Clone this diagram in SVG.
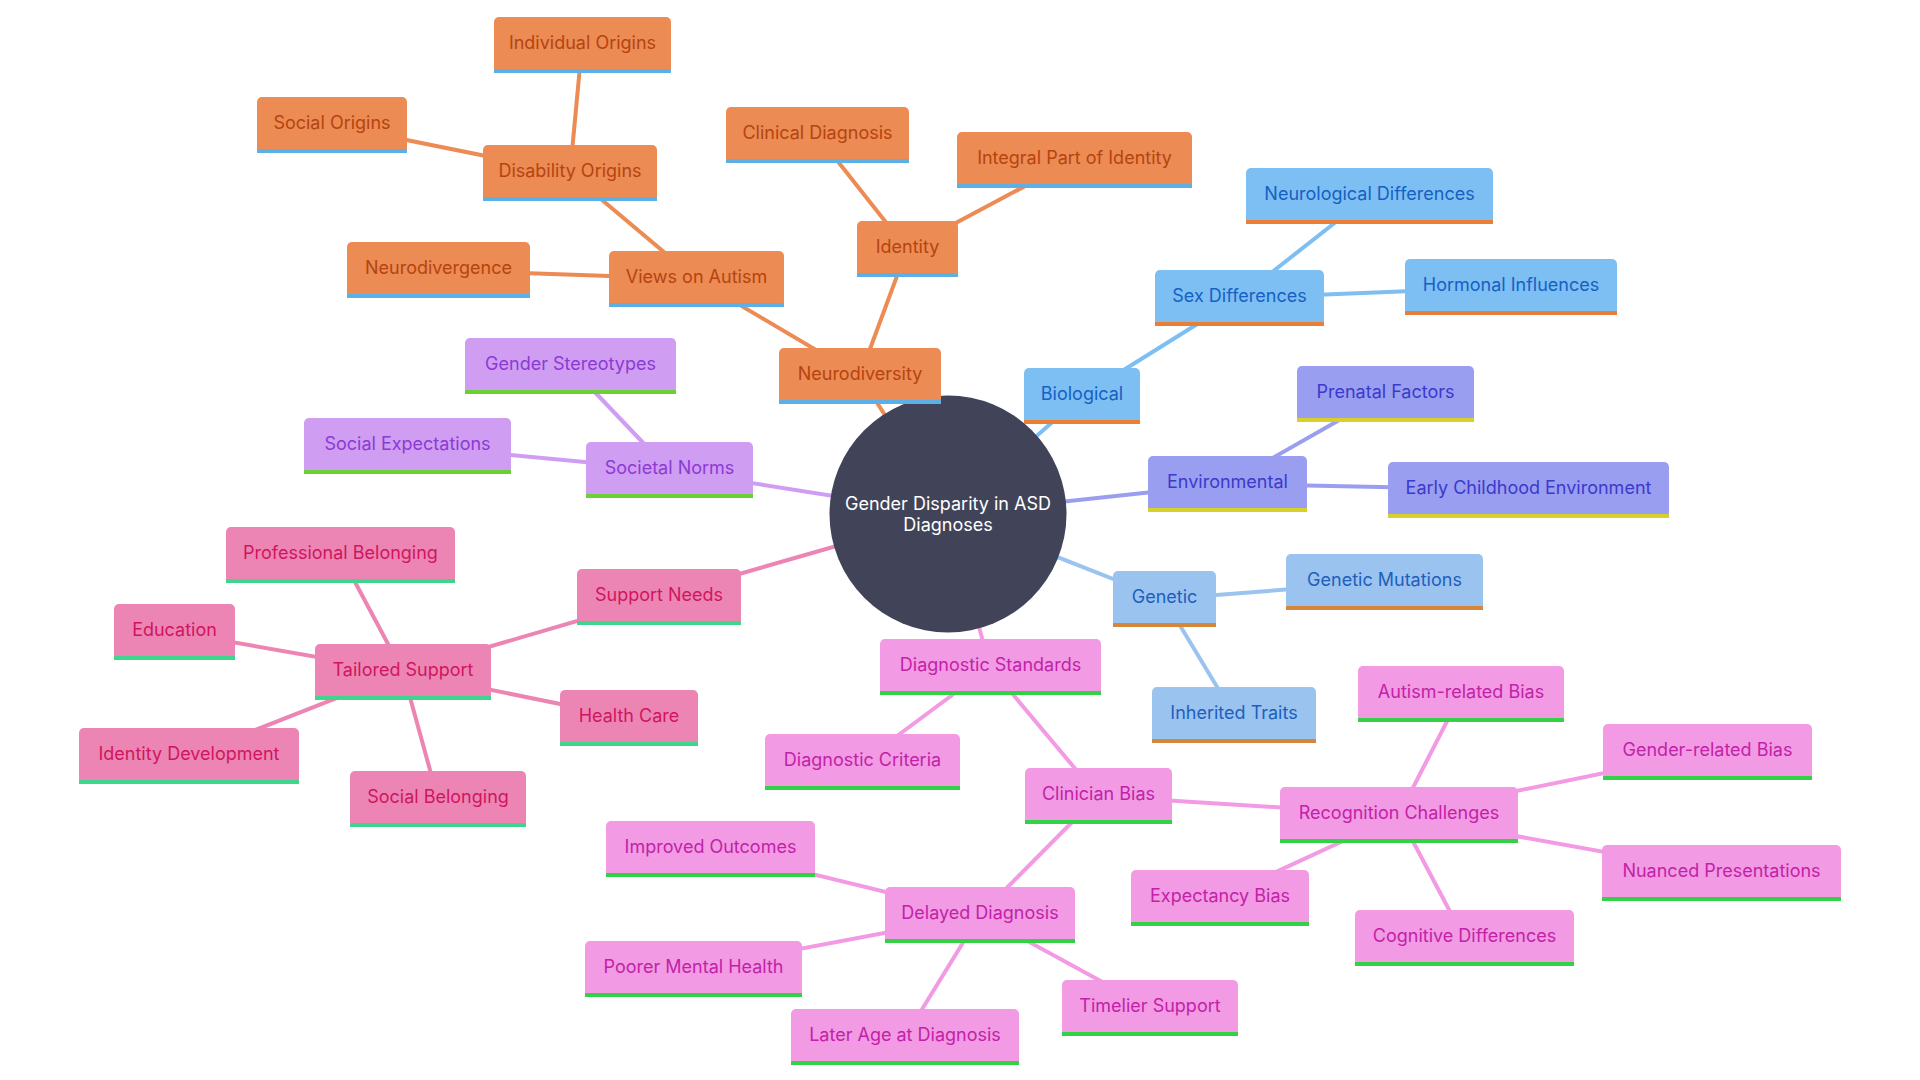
<svg xmlns="http://www.w3.org/2000/svg" width="1920" height="1080" viewBox="0 0 1920 1080">
<style>
text{font-family:Inter,"Noto Sans","Liberation Sans",sans-serif;font-size:18px;text-anchor:middle}
g[class] text{transform:translateY(-1px)}
.e{stroke-width:4;stroke-linecap:round;fill:none}
.eo{stroke:#EC8B54}.eb{stroke:#7DBFF2}.ev{stroke:#9A9EF0}.eg{stroke:#9AC3F0}.ed{stroke:#F29AE3}.es{stroke:#EC85B3}.el{stroke:#CF9DF2}
.o rect.f{fill:#EC8B54}.o rect.l{fill:#5DB0E6}.o text{fill:#B5440F}
.b rect.f{fill:#7DBFF2}.b rect.l{fill:#E97E34}.b text{fill:#1660C4}
.v rect.f{fill:#9A9EF0}.v rect.l{fill:#D7CF2A}.v text{fill:#3A3ACB}
.g rect.f{fill:#9AC3F0}.g rect.l{fill:#D4873A}.g text{fill:#1E5FBB}
.d rect.f{fill:#F29AE3}.d rect.l{fill:#33D146}.d text{fill:#C222A8}
.s rect.f{fill:#EC85B3}.s rect.l{fill:#3DD68C}.s text{fill:#D0155F}
.n rect.f{fill:#CF9DF2}.n rect.l{fill:#6CCF35}.n text{fill:#8C3AD4}
</style>
<rect width="1920" height="1080" fill="#ffffff"/>
<g id="connectors">
<line class="e eo" x1="948" y1="514" x2="860" y2="376"/>
<line class="e eo" x1="860" y1="376" x2="696" y2="279"/>
<line class="e eo" x1="860" y1="376" x2="907" y2="249"/>
<line class="e eo" x1="696" y1="279" x2="570" y2="173"/>
<line class="e eo" x1="696" y1="279" x2="438" y2="270"/>
<line class="e eo" x1="570" y1="173" x2="582" y2="45"/>
<line class="e eo" x1="570" y1="173" x2="332" y2="125"/>
<line class="e eo" x1="907" y1="249" x2="817" y2="135"/>
<line class="e eo" x1="907" y1="249" x2="1074" y2="160"/>
<line class="e eb" x1="948" y1="514" x2="1082" y2="396"/>
<line class="e eb" x1="1082" y1="396" x2="1239" y2="298"/>
<line class="e eb" x1="1239" y1="298" x2="1369" y2="196"/>
<line class="e eb" x1="1239" y1="298" x2="1511" y2="287"/>
<line class="e ev" x1="948" y1="514" x2="1227" y2="484"/>
<line class="e ev" x1="1227" y1="484" x2="1385" y2="394"/>
<line class="e ev" x1="1227" y1="484" x2="1528" y2="490"/>
<line class="e eg" x1="948" y1="514" x2="1164" y2="599"/>
<line class="e eg" x1="1164" y1="599" x2="1384" y2="582"/>
<line class="e eg" x1="1164" y1="599" x2="1234" y2="715"/>
<line class="e ed" x1="948" y1="514" x2="990" y2="667"/>
<line class="e ed" x1="990" y1="667" x2="862" y2="762"/>
<line class="e ed" x1="990" y1="667" x2="1098" y2="796"/>
<line class="e ed" x1="1098" y1="796" x2="1399" y2="815"/>
<line class="e ed" x1="1399" y1="815" x2="1461" y2="694"/>
<line class="e ed" x1="1399" y1="815" x2="1707" y2="752"/>
<line class="e ed" x1="1399" y1="815" x2="1721" y2="873"/>
<line class="e ed" x1="1399" y1="815" x2="1220" y2="898"/>
<line class="e ed" x1="1399" y1="815" x2="1464" y2="938"/>
<line class="e ed" x1="1098" y1="796" x2="980" y2="915"/>
<line class="e ed" x1="980" y1="915" x2="710" y2="849"/>
<line class="e ed" x1="980" y1="915" x2="693" y2="969"/>
<line class="e ed" x1="980" y1="915" x2="905" y2="1037"/>
<line class="e ed" x1="980" y1="915" x2="1150" y2="1008"/>
<line class="e es" x1="948" y1="514" x2="659" y2="597"/>
<line class="e es" x1="659" y1="597" x2="403" y2="672"/>
<line class="e es" x1="403" y1="672" x2="340" y2="554"/>
<line class="e es" x1="403" y1="672" x2="174" y2="632"/>
<line class="e es" x1="403" y1="672" x2="629" y2="718"/>
<line class="e es" x1="403" y1="672" x2="189" y2="756"/>
<line class="e es" x1="403" y1="672" x2="438" y2="799"/>
<line class="e el" x1="948" y1="514" x2="669" y2="470"/>
<line class="e el" x1="669" y1="470" x2="570" y2="366"/>
<line class="e el" x1="669" y1="470" x2="407" y2="445"/>
</g>
<g id="root">
<circle cx="948" cy="514" r="118.5" fill="#414459"/>
<text x="948" y="510" fill="#ffffff">Gender Disparity in ASD</text>
<text x="948" y="531" fill="#ffffff">Diagnoses</text>
</g>
<g id="n-neurodiversity" class="o"><rect class="f" x="779" y="348" width="162" height="56" rx="5"/><rect class="l" x="779" y="400" width="162" height="4"/><text x="860" y="381">Neurodiversity</text></g>
<g id="n-views" class="o"><rect class="f" x="609" y="251" width="175" height="56" rx="5"/><rect class="l" x="609" y="303" width="175" height="4"/><text x="696.5" y="284">Views on Autism</text></g>
<g id="n-disability" class="o"><rect class="f" x="483" y="145" width="174" height="56" rx="5"/><rect class="l" x="483" y="197" width="174" height="4"/><text x="570" y="178">Disability Origins</text></g>
<g id="n-individual" class="o"><rect class="f" x="494" y="17" width="177" height="56" rx="5"/><rect class="l" x="494" y="69" width="177" height="4"/><text x="582.5" y="50">Individual Origins</text></g>
<g id="n-social-origins" class="o"><rect class="f" x="257" y="97" width="150" height="56" rx="5"/><rect class="l" x="257" y="149" width="150" height="4"/><text x="332" y="130">Social Origins</text></g>
<g id="n-neurodivergence" class="o"><rect class="f" x="347" y="242" width="183" height="56" rx="5"/><rect class="l" x="347" y="294" width="183" height="4"/><text x="438.5" y="275">Neurodivergence</text></g>
<g id="n-identity" class="o"><rect class="f" x="857" y="221" width="101" height="56" rx="5"/><rect class="l" x="857" y="273" width="101" height="4"/><text x="907.5" y="254">Identity</text></g>
<g id="n-clinical" class="o"><rect class="f" x="726" y="107" width="183" height="56" rx="5"/><rect class="l" x="726" y="159" width="183" height="4"/><text x="817.5" y="140">Clinical Diagnosis</text></g>
<g id="n-integral" class="o"><rect class="f" x="957" y="132" width="235" height="56" rx="5"/><rect class="l" x="957" y="184" width="235" height="4"/><text x="1074.5" y="165">Integral Part of Identity</text></g>
<g id="n-biological" class="b"><rect class="f" x="1024" y="368" width="116" height="56" rx="5"/><rect class="l" x="1024" y="420" width="116" height="4"/><text x="1082" y="401">Biological</text></g>
<g id="n-sex" class="b"><rect class="f" x="1155" y="270" width="169" height="56" rx="5"/><rect class="l" x="1155" y="322" width="169" height="4"/><text x="1239.5" y="303">Sex Differences</text></g>
<g id="n-neurological" class="b"><rect class="f" x="1246" y="168" width="247" height="56" rx="5"/><rect class="l" x="1246" y="220" width="247" height="4"/><text x="1369.5" y="201">Neurological Differences</text></g>
<g id="n-hormonal" class="b"><rect class="f" x="1405" y="259" width="212" height="56" rx="5"/><rect class="l" x="1405" y="311" width="212" height="4"/><text x="1511" y="292">Hormonal Influences</text></g>
<g id="n-environmental" class="v"><rect class="f" x="1148" y="456" width="159" height="56" rx="5"/><rect class="l" x="1148" y="508" width="159" height="4"/><text x="1227.5" y="489">Environmental</text></g>
<g id="n-prenatal" class="v"><rect class="f" x="1297" y="366" width="177" height="56" rx="5"/><rect class="l" x="1297" y="418" width="177" height="4"/><text x="1385.5" y="399">Prenatal Factors</text></g>
<g id="n-early" class="v"><rect class="f" x="1388" y="462" width="281" height="56" rx="5"/><rect class="l" x="1388" y="514" width="281" height="4"/><text x="1528.5" y="495">Early Childhood Environment</text></g>
<g id="n-genetic" class="g"><rect class="f" x="1113" y="571" width="103" height="56" rx="5"/><rect class="l" x="1113" y="623" width="103" height="4"/><text x="1164.5" y="604">Genetic</text></g>
<g id="n-mutations" class="g"><rect class="f" x="1286" y="554" width="197" height="56" rx="5"/><rect class="l" x="1286" y="606" width="197" height="4"/><text x="1384.5" y="587">Genetic Mutations</text></g>
<g id="n-inherited" class="g"><rect class="f" x="1152" y="687" width="164" height="56" rx="5"/><rect class="l" x="1152" y="739" width="164" height="4"/><text x="1234" y="720">Inherited Traits</text></g>
<g id="n-diag-standards" class="d"><rect class="f" x="880" y="639" width="221" height="56" rx="5"/><rect class="l" x="880" y="691" width="221" height="4"/><text x="990.5" y="672">Diagnostic Standards</text></g>
<g id="n-diag-criteria" class="d"><rect class="f" x="765" y="734" width="195" height="56" rx="5"/><rect class="l" x="765" y="786" width="195" height="4"/><text x="862.5" y="767">Diagnostic Criteria</text></g>
<g id="n-clinician" class="d"><rect class="f" x="1025" y="768" width="147" height="56" rx="5"/><rect class="l" x="1025" y="820" width="147" height="4"/><text x="1098.5" y="801">Clinician Bias</text></g>
<g id="n-recognition" class="d"><rect class="f" x="1280" y="787" width="238" height="56" rx="5"/><rect class="l" x="1280" y="839" width="238" height="4"/><text x="1399" y="820">Recognition Challenges</text></g>
<g id="n-autism-bias" class="d"><rect class="f" x="1358" y="666" width="206" height="56" rx="5"/><rect class="l" x="1358" y="718" width="206" height="4"/><text x="1461" y="699">Autism-related Bias</text></g>
<g id="n-gender-bias" class="d"><rect class="f" x="1603" y="724" width="209" height="56" rx="5"/><rect class="l" x="1603" y="776" width="209" height="4"/><text x="1707.5" y="757">Gender-related Bias</text></g>
<g id="n-nuanced" class="d"><rect class="f" x="1602" y="845" width="239" height="56" rx="5"/><rect class="l" x="1602" y="897" width="239" height="4"/><text x="1721.5" y="878">Nuanced Presentations</text></g>
<g id="n-expectancy" class="d"><rect class="f" x="1131" y="870" width="178" height="56" rx="5"/><rect class="l" x="1131" y="922" width="178" height="4"/><text x="1220" y="903">Expectancy Bias</text></g>
<g id="n-cognitive" class="d"><rect class="f" x="1355" y="910" width="219" height="56" rx="5"/><rect class="l" x="1355" y="962" width="219" height="4"/><text x="1464.5" y="943">Cognitive Differences</text></g>
<g id="n-delayed" class="d"><rect class="f" x="885" y="887" width="190" height="56" rx="5"/><rect class="l" x="885" y="939" width="190" height="4"/><text x="980" y="920">Delayed Diagnosis</text></g>
<g id="n-improved" class="d"><rect class="f" x="606" y="821" width="209" height="56" rx="5"/><rect class="l" x="606" y="873" width="209" height="4"/><text x="710.5" y="854">Improved Outcomes</text></g>
<g id="n-poorer" class="d"><rect class="f" x="585" y="941" width="217" height="56" rx="5"/><rect class="l" x="585" y="993" width="217" height="4"/><text x="693.5" y="974">Poorer Mental Health</text></g>
<g id="n-later" class="d"><rect class="f" x="791" y="1009" width="228" height="56" rx="5"/><rect class="l" x="791" y="1061" width="228" height="4"/><text x="905" y="1042">Later Age at Diagnosis</text></g>
<g id="n-timelier" class="d"><rect class="f" x="1062" y="980" width="176" height="56" rx="5"/><rect class="l" x="1062" y="1032" width="176" height="4"/><text x="1150" y="1013">Timelier Support</text></g>
<g id="n-support-needs" class="s"><rect class="f" x="577" y="569" width="164" height="56" rx="5"/><rect class="l" x="577" y="621" width="164" height="4"/><text x="659" y="602">Support Needs</text></g>
<g id="n-tailored" class="s"><rect class="f" x="315" y="644" width="176" height="56" rx="5"/><rect class="l" x="315" y="696" width="176" height="4"/><text x="403" y="677">Tailored Support</text></g>
<g id="n-professional" class="s"><rect class="f" x="226" y="527" width="229" height="56" rx="5"/><rect class="l" x="226" y="579" width="229" height="4"/><text x="340.5" y="560">Professional Belonging</text></g>
<g id="n-education" class="s"><rect class="f" x="114" y="604" width="121" height="56" rx="5"/><rect class="l" x="114" y="656" width="121" height="4"/><text x="174.5" y="637">Education</text></g>
<g id="n-health" class="s"><rect class="f" x="560" y="690" width="138" height="56" rx="5"/><rect class="l" x="560" y="742" width="138" height="4"/><text x="629" y="723">Health Care</text></g>
<g id="n-identity-dev" class="s"><rect class="f" x="79" y="728" width="220" height="56" rx="5"/><rect class="l" x="79" y="780" width="220" height="4"/><text x="189" y="761">Identity Development</text></g>
<g id="n-social-belonging" class="s"><rect class="f" x="350" y="771" width="176" height="56" rx="5"/><rect class="l" x="350" y="823" width="176" height="4"/><text x="438" y="804">Social Belonging</text></g>
<g id="n-societal" class="n"><rect class="f" x="586" y="442" width="167" height="56" rx="5"/><rect class="l" x="586" y="494" width="167" height="4"/><text x="669.5" y="475">Societal Norms</text></g>
<g id="n-stereotypes" class="n"><rect class="f" x="465" y="338" width="211" height="56" rx="5"/><rect class="l" x="465" y="390" width="211" height="4"/><text x="570.5" y="371">Gender Stereotypes</text></g>
<g id="n-expectations" class="n"><rect class="f" x="304" y="418" width="207" height="56" rx="5"/><rect class="l" x="304" y="470" width="207" height="4"/><text x="407.5" y="451">Social Expectations</text></g>
</svg>
